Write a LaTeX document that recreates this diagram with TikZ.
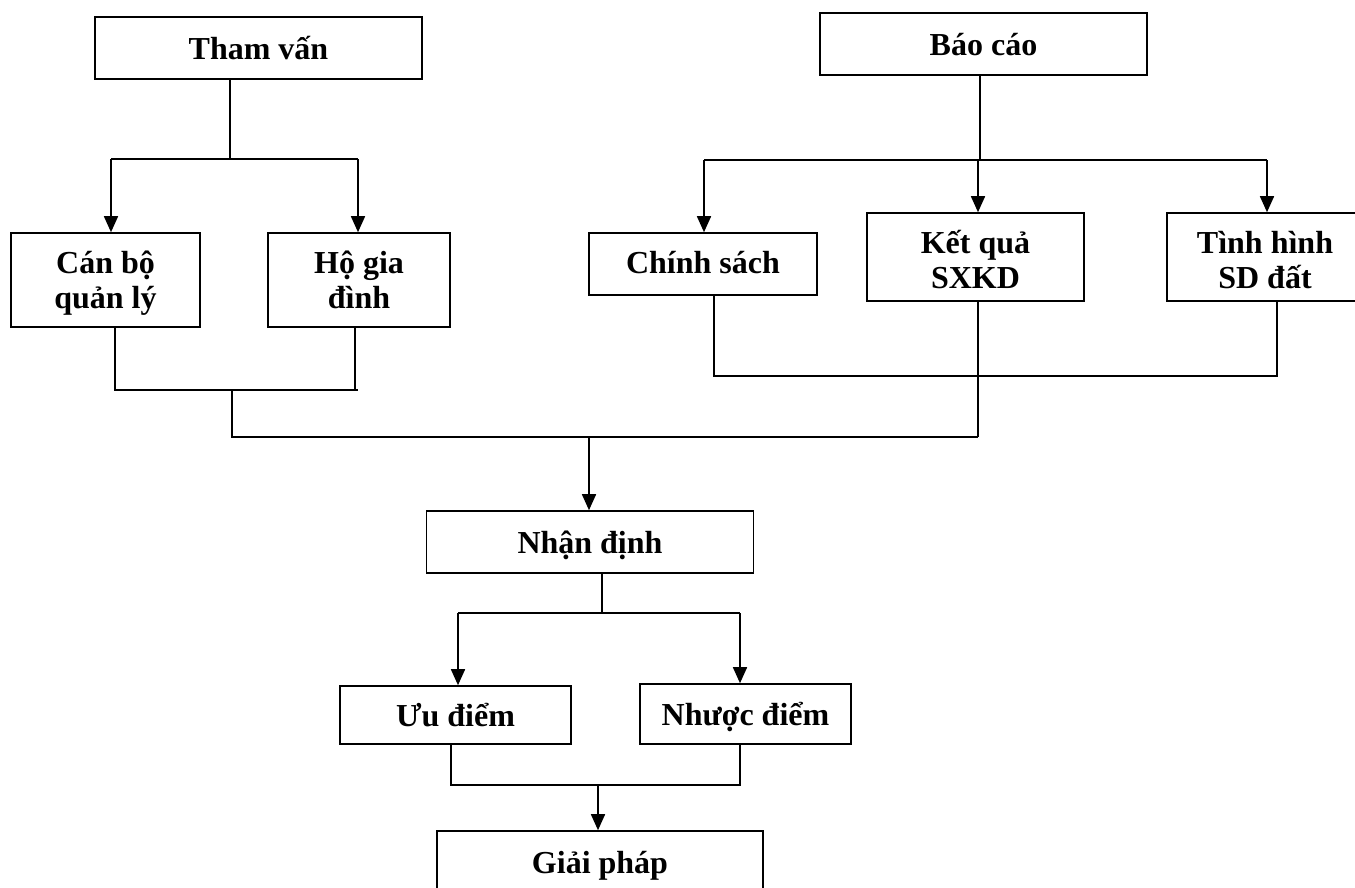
\documentclass[tikz,border=0pt]{standalone}
\usepackage{fontspec}
\setmainfont{Liberation Serif}
\usetikzlibrary{arrows.meta}
\newcommand{\toprule}[1]{\rule{0pt}{#1}}
\newcommand{\botrule}[1]{\rule[-#1]{0pt}{#1}}
\begin{document}
\begin{tikzpicture}[x=1pt,y=-1pt,
  box/.style={draw, line width=1.6pt, inner sep=0pt, align=center,
    font=\fontsize{32}{35}\selectfont\bfseries},
  oneline/.style={text height=27pt, text depth=5pt},
  conn/.style={line width=1.6pt},
  arr/.style={line width=1.6pt, -{Triangle[length=16pt,width=14pt]}}]
\useasboundingbox (0,0) rectangle (1355,887);
\clip (0,0) rectangle (1355,887);
% boxes
\node[box, oneline, minimum width=327pt, minimum height=62pt] (tham) at (258.5,48) {Tham vấn};
\node[box, minimum width=189pt, minimum height=94pt] (cb) at (105.5,280) {\toprule{30pt}Cán bộ\\quản lý\botrule{9pt}};
\node[box, minimum width=182pt, minimum height=94pt] (hg) at (359,280) {\toprule{30pt}Hộ gia\\đình\botrule{9pt}};
\node[box, oneline, minimum width=327pt, minimum height=62pt] (bc) at (983.5,44) {Báo cáo};
\node[box, text height=23pt, text depth=5pt, minimum width=228pt, minimum height=62pt] (cs) at (703,264) {Chính sách};
\node[box, minimum width=217pt, minimum height=88pt] (kq) at (975.5,257) {\toprule{33pt}Kết quả\\SXKD\botrule{6pt}};
\node[box, minimum width=196pt, minimum height=88pt] (th) at (1265,257) {\toprule{33pt}Tình hình\\SD đất\botrule{6pt}};
\node[box, oneline, minimum width=327pt, minimum height=62pt] (nd) at (590,542) {Nhận định};
\node[box, oneline, minimum width=231pt, minimum height=58pt] (uu) at (455.5,715) {Ưu điểm};
\node[box, oneline, minimum width=211pt, minimum height=60pt] (nh) at (745.5,714) {Nhược điểm};
\node[box, oneline, minimum width=326pt, minimum height=62pt] (gp) at (600,862) {Giải pháp};
% junction coordinates
\coordinate (t0) at (230,159);
\coordinate (tA) at (111,159);
\coordinate (tB) at (358,159);
\coordinate (b1) at (115,390);
\coordinate (b2) at (355,390);
\coordinate (b3) at (358,390);
\coordinate (b0) at (232,390);
\coordinate (m1) at (232,437);
\coordinate (m2) at (978,437);
\coordinate (mA) at (589,437);
\coordinate (r0) at (980,160);
\coordinate (rA) at (704,160);
\coordinate (rB) at (978,160);
\coordinate (rC) at (1267,160);
\coordinate (s1) at (714,376);
\coordinate (s2) at (1277,376);
\coordinate (n0) at (602,613);
\coordinate (nA) at (458,613);
\coordinate (nB) at (740,613);
\coordinate (u1) at (451,785);
\coordinate (u2) at (740,785);
\coordinate (uA) at (598,785);
% Tham van branch
\draw[conn] (tham.south -| t0) -- (t0);
\draw[conn] (tA) -- (tB);
\draw[arr] (tA) -- (tA |- cb.north);
\draw[arr] (tB) -- (tB |- hg.north);
\draw[conn] (b1 |- cb.south) -- (b1) -- (b3);
\draw[conn] (b2 |- hg.south) -- (b2);
\draw[conn] (b0) -- (m1) -- (m2);
% Bao cao branch
\draw[conn] (bc.south -| r0) -- (r0);
\draw[conn] (rA) -- (rC);
\draw[arr] (rA) -- (rA |- cs.north);
\draw[arr] (rB) -- (rB |- kq.north);
\draw[arr] (rC) -- (rC |- th.north);
\draw[conn] (s1 |- cs.south) -- (s1) -- (s2) -- (s2 |- th.south);
\draw[conn] (m2 |- kq.south) -- (m2);
% to Nhan dinh
\draw[arr] (mA) -- (mA |- nd.north);
\draw[conn] (nd.south -| n0) -- (n0);
\draw[conn] (nA) -- (nB);
\draw[arr] (nA) -- (nA |- uu.north);
\draw[arr] (nB) -- (nB |- nh.north);
\draw[conn] (u1 |- uu.south) -- (u1) -- (u2) -- (u2 |- nh.south);
\draw[arr] (uA) -- (uA |- gp.north);
\end{tikzpicture}
\end{document}
